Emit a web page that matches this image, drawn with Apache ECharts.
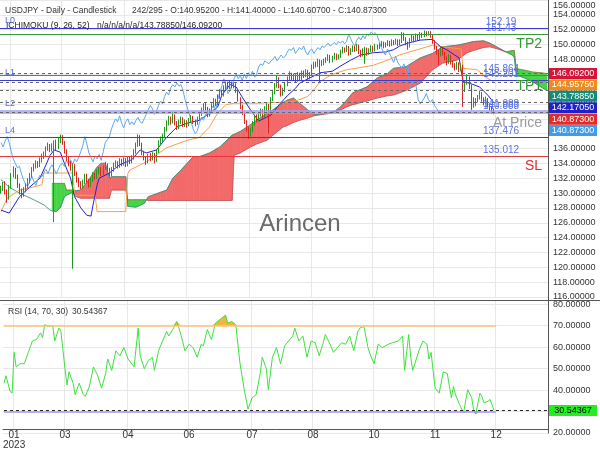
<!DOCTYPE html>
<html>
<head>
<meta charset="utf-8">
<script src="https://cdn.jsdelivr.net/npm/echarts@6/dist/echarts.min.js"></script>
<style>
html,body{margin:0;padding:0;background:#ffffff;}
#chart{width:600px;height:450px;}
</style>
</head>
<body>
<div id="chart"></div>
<script>
// ---------------- DATA ----------------
const opens = [
130.4,130.6,131.2,130.2,129.4,130.8,132.4,133.0,132.3,131.0,
130.2,129.8,130.4,131.0,131.6,132.4,133.2,133.6,134.0,133.8,
134.4,134.9,135.2,136.0,136.4,135.9,136.3,136.8,136.2,137.0,
137.6,136.8,135.6,134.6,134.0,133.4,133.6,132.6,131.8,131.2,
130.9,131.5,132.3,131.6,131.0,131.8,132.4,132.2,132.8,133.2,
132.6,133.4,133.8,133.2,132.6,133.2,133.8,134.0,133.6,134.4,
133.9,134.5,133.8,134.6,134.2,134.8,135.6,136.4,137.6,136.6,
135.4,134.8,134.2,135.0,134.6,135.2,134.4,135.6,136.8,137.2,
137.6,138.6,139.4,140.0,139.6,140.4,139.4,138.8,139.6,140.0,
139.2,139.6,139.2,139.8,140.2,139.6,139.4,140.0,140.6,141.2,
141.8,141.4,140.6,141.0,141.8,142.4,142.0,143.0,143.6,143.2,
144.2,144.6,144.3,144.8,144.4,144.6,143.8,142.6,141.6,140.8,
139.6,138.6,138.0,138.4,139.4,140.2,139.8,140.6,141.0,140.4,
141.4,141.8,141.2,142.6,143.6,144.4,145.4,144.4,143.4,143.8,
144.6,145.4,146.0,145.4,145.8,145.2,146.0,145.4,146.2,145.8,
146.4,145.6,146.0,147.0,147.4,147.2,147.8,147.6,147.4,147.8,
148.0,148.4,147.8,148.2,148.6,148.2,148.4,149.0,149.4,149.2,
149.6,148.8,149.2,149.6,149.3,149.8,149.0,148.6,149.2,149.4,
148.8,149.2,149.6,149.3,149.8,149.6,149.9,150.2,149.8,150.0,
150.3,150.0,150.4,150.2,150.5,150.1,150.4,151.4,150.8,150.2,
149.8,150.6,151.0,150.6,151.2,150.8,151.4,151.2,151.7,151.4,
151.6,151.2,150.4,149.6,149.0,148.6,149.4,148.8,148.2,147.6,
148.4,147.6,147.2,146.8,147.4,146.6,147.2,144.0,144.8,145.4,
144.4,142.6,142.0,142.4,142.8,143.4,142.6,142.2,142.6,141.8,
141.4,140.952];
const closes = [
130.6,131.2,130.2,129.4,130.8,132.4,133.0,132.3,131.0,130.2,
129.8,130.4,131.0,131.6,132.4,133.2,133.6,134.0,133.8,134.4,
134.9,135.2,136.0,136.4,135.9,136.3,136.8,136.2,137.0,137.6,
136.8,135.6,134.6,134.0,133.4,133.6,132.6,131.8,131.2,130.9,
131.5,132.3,131.6,131.0,131.8,132.4,132.2,132.8,133.2,132.6,
133.4,133.8,133.2,132.6,133.2,133.8,134.0,133.6,134.4,133.9,
134.5,133.8,134.6,134.2,134.8,135.6,136.4,137.6,136.6,135.4,
134.8,134.2,135.0,134.6,135.2,134.4,135.6,136.8,137.2,137.6,
138.6,139.4,140.0,139.6,140.4,139.4,138.8,139.6,140.0,139.2,
139.6,139.2,139.8,140.2,139.6,139.4,140.0,140.6,141.2,141.8,
141.4,140.6,141.0,141.8,142.4,142.0,143.0,143.6,143.2,144.2,
144.6,144.3,144.8,144.4,144.6,143.8,142.6,141.6,140.8,139.6,
138.6,138.0,138.4,139.4,140.2,139.8,140.6,141.0,140.4,141.4,
141.8,141.2,142.6,143.6,144.4,145.4,144.4,143.4,143.8,144.6,
145.4,146.0,145.4,145.8,145.2,146.0,145.4,146.2,145.8,146.4,
145.6,146.0,147.0,147.4,147.2,147.8,147.6,147.4,147.8,148.0,
148.4,147.8,148.2,148.6,148.2,148.4,149.0,149.4,149.2,149.6,
148.8,149.2,149.6,149.3,149.8,149.0,148.6,149.2,149.4,148.8,
149.2,149.6,149.3,149.8,149.6,149.9,150.2,149.8,150.0,150.3,
150.0,150.4,150.2,150.5,150.1,150.4,151.4,150.8,150.2,149.8,
150.6,151.0,150.6,151.2,150.8,151.4,151.2,151.7,151.4,151.6,
151.2,150.4,149.6,149.0,148.6,149.4,148.8,148.2,147.6,148.4,
147.6,147.2,146.8,147.4,146.6,147.2,144.0,144.8,145.4,144.4,
142.6,142.0,142.4,142.8,143.4,142.6,142.2,142.6,141.8,141.4,
140.952,140.873];
const highs = [
131.0,131.5,131.6,130.5,131.1,132.7,133.6,133.4,132.5,131.3,
130.6,130.8,131.3,132.0,132.7,133.5,134.0,134.4,134.3,134.8,
135.3,135.6,136.3,136.8,136.6,136.7,137.1,137.2,137.4,137.9,
137.8,137.0,135.9,134.9,134.3,134.0,133.9,132.9,132.1,131.6,
131.8,132.6,132.6,131.9,132.1,132.8,132.7,133.2,133.5,133.5,
133.7,134.2,134.0,133.4,133.5,134.1,134.4,134.3,134.7,134.6,
134.8,134.7,134.9,134.9,135.1,135.9,136.8,137.9,137.8,136.8,
135.7,135.0,135.3,135.4,135.5,135.4,135.9,137.1,137.6,138.0,
138.9,139.8,140.4,140.3,140.9,140.6,139.7,139.9,140.3,140.2,
139.9,139.8,140.1,140.5,140.4,139.9,140.3,140.9,141.5,142.1,
142.2,141.6,141.4,142.1,142.8,142.7,143.3,144.0,143.9,144.5,
145.0,145.0,145.1,145.0,144.9,144.8,144.0,142.9,141.9,141.0,
139.8,138.9,138.8,139.7,140.5,140.6,140.9,141.4,141.3,141.7,
142.1,142.0,142.9,143.9,144.8,145.8,145.6,144.6,144.2,144.9,
145.7,146.4,146.2,146.1,146.0,146.3,146.2,146.5,146.5,146.7,
146.6,146.3,147.3,147.7,147.7,148.1,148.0,147.9,148.1,148.3,
148.7,148.6,148.5,148.9,148.8,148.7,149.3,149.7,149.6,149.9,
149.8,149.5,149.9,149.8,150.1,150.0,149.3,149.5,149.7,149.6,
149.5,149.9,149.8,150.1,150.0,150.2,150.5,150.4,150.3,150.6,
150.5,150.7,150.6,150.8,150.7,150.7,151.7,151.6,151.0,150.4,
150.9,151.3,151.2,151.5,151.4,151.7,151.6,151.9,151.8,151.8,
151.8,151.4,150.6,149.8,149.3,149.7,149.6,149.0,148.4,148.7,
148.6,147.9,147.5,147.7,147.6,147.5,147.3,145.2,146.0,145.7,
144.6,142.9,142.8,143.2,143.8,143.6,142.9,143.0,142.8,142.1,
141.6,141.4];
const lows = [
129.9,130.3,129.8,128.7,129.1,130.6,132.1,131.9,130.7,129.8,
129.3,129.5,130.1,130.7,131.3,132.1,132.9,133.3,133.4,133.5,
134.1,134.6,134.9,135.7,135.5,135.6,126.1,135.8,135.9,136.7,
136.5,135.3,134.3,133.6,133.0,119.8,132.3,131.4,130.8,130.5,
130.6,131.2,131.3,130.7,130.8,131.5,131.8,131.9,132.5,132.3,
132.4,133.1,132.9,132.2,132.3,132.9,133.5,133.3,133.4,133.6,
133.7,133.5,133.6,133.9,134.0,134.5,135.3,136.2,136.3,135.1,
134.4,133.8,134.0,134.3,134.4,134.0,134.2,135.4,136.5,136.9,
137.4,138.3,139.1,139.2,139.4,139.1,138.5,138.6,139.3,138.9,
138.9,138.8,139.0,139.5,139.3,139.0,139.2,139.8,140.4,141.0,
141.1,140.2,140.3,140.8,141.5,141.7,141.8,142.7,142.9,143.0,
143.9,144.0,144.0,144.1,144.1,143.5,142.3,141.3,140.5,139.3,
138.3,137.3,137.6,138.2,139.1,139.5,139.6,140.3,140.1,140.2,
141.0,138.0,141.0,142.4,143.3,144.2,144.1,143.0,143.1,143.6,
144.4,145.1,145.1,145.1,144.9,145.0,145.1,145.2,145.5,145.6,
145.3,145.3,145.8,146.7,146.9,147.0,144.8,147.1,147.2,147.5,
147.8,147.5,147.6,148.0,147.9,148.0,148.2,148.8,148.9,149.0,
148.5,148.6,149.0,149.0,149.1,148.7,148.3,148.4,147.4,148.5,
148.6,149.0,149.0,149.1,149.3,149.4,149.7,149.5,149.6,149.8,
149.7,149.8,149.9,150.0,149.8,149.9,150.2,150.5,149.9,149.3,
149.6,150.4,150.3,150.4,150.5,150.6,150.9,151.0,151.1,151.2,
150.9,150.1,149.3,148.6,147.2,148.4,148.5,147.9,147.2,147.4,
147.3,146.9,146.5,146.6,146.3,146.4,141.6,143.6,144.6,144.0,
141.2,141.5,141.7,142.2,142.6,142.3,141.8,142.0,141.5,141.1,
140.7,140.607];

// Ichimoku lines: [bar index, price]
const tenkanPts = [[0,127.7],[4,127.3],[9,129.5],[14,130.8],[19,132.0],[22,133.8],[24,135.1],[26,135.8],[29,135.5],[31,134.0],[34,132.0],[36,129.5],[39,128.0],[42,127.0],[44,126.9],[45,128.4],[47,131.1],[48,132.0],[53,132.7],[58,133.8],[64,134.5],[68,135.8],[71,135.4],[76,135.8],[81,137.5],[86,138.9],[91,139.4],[97,139.8],[102,140.8],[106,141.6],[108,143.2],[112,144.6],[115,144.3],[118,142.9],[122,141.2],[126,139.7],[129,140.1],[132,140.5],[136,141.9],[140,143.1],[144,144.1],[146,144.8],[151,145.5],[156,146.2],[162,146.4],[166,147.1],[171,147.9],[176,148.6],[182,148.9],[188,149.0],[192,149.3],[195,149.8],[199,150.2],[205,150.6],[211,150.7],[215,149.7],[218,149.3],[224,148.2],[226,145.0],[229,144.8],[234,144.3],[238,143.2],[241,142.1705]];
const kijunPts = [[0,127.5],[3,129.3],[9,130.4],[14,130.7],[20,131.1],[21,132.7],[35,132.7],[36,129.7],[46,129.7],[47,127.5],[61,127.5],[62,132.6],[63,133.1],[71,134.2],[81,136.1],[91,137.1],[97,137.5],[102,138.9],[106,140.8],[110,141.9],[114,142.1],[126,142.1],[143,142.3],[150,143.0],[153,143.9],[156,145.0],[162,146.0],[169,146.6],[182,147.2],[189,147.9],[195,148.6],[201,149.1],[211,149.9],[216,149.7],[225,149.4],[226,146.8],[233,146.6],[237,145.6],[241,144.9575]];
// Cloud: [bar index, senkou A, senkou B]
const cloudPts = [[0,131.8,null],[4,130.8,null],[9,130.0,null],[16,129.1,null],[21,128.4,null],[24,127.7,null],
[25,127.6,131.3],[27,127.5,131.3],[29,128.0,131.3],[31,129.5,131.3],[32,129.7,130.4],[35,130.1,130.4],[36,130.3,129.6],[39,130.4,129.3],[43,131.8,129.3],[47,133.5,129.3],[49,134.0,129.3],[51,134.0,129.3],[53,132.0,129.3],[54,132.2,130.4],[61,132.2,130.4],[62,128.2,129.1],[66,128.1,129.1],[70,128.6,129.1],[71,129.0,129.1],[72,129.5,129.0],[78,130.1,129.0],[81,130.4,129.0],[84,132.0,129.0],[88,133.1,129.0],[91,134.0,129.0],[94,134.9,129.0],[97,134.9,129.0],[102,135.4,129.0],[107,136.2,129.0],[113,137.8,129.0],[114,137.9,135.1],[117,138.3,135.4],[122,139.2,136.2],[125,139.8,136.6],[130,140.7,137.1],[133,141.2,137.8],[138,142.2,138.9],[140,142.5,139.1],[143,142.8,139.5],[146,142.1,139.8],[150,141.2,140.1],[153,140.6,140.4],[155,140.6,140.5],[160,140.8,140.7],[163,141.0,140.9],[166,141.6,141.2],[169,142.5,141.6],[172,143.5,141.9],[179,144.3,142.4],[184,145.5,142.8],[189,146.1,143.1],[192,146.8,143.2],[198,147.0,143.8],[205,148.2,144.8],[211,148.8,146.6],[216,149.7,147.5],[223,149.9,147.9],[228,150.2,148.9],[231,150.4,149.2],[236,150.5,149.6],[239,150.2,149.7],[243,149.6,149.4],[247,149.0,149.0],[250,148.6,149.2],[251,148.3,149.2],[252,145.9,146.75],[256,145.5,146.55],[260,145.0,146.3],[264,144.3,146.2],[267,143.7885,146.092]];
const CHIKOU_SHIFT = 26;

// RSI (14): [bar index, value]
const rsiPts = [[0,43.2],[1,46.7],[3,39.4],[4,38.6],[5,57.6],[6,50.8],[8,52.3],[10,52.3],[12,57.6],[14,62.9],[16,63.6],[18,66.7],[19,64.4],[20,70.5],[22,69.7],[24,70.0],[25,62.9],[27,68.9],[28,67.4],[30,50.0],[31,42.4],[32,48.5],[34,43.2],[35,37.9],[37,43.2],[39,37.9],[40,37.1],[42,41.7],[44,50.8],[46,47.0],[48,40.9],[50,47.7],[51,54.5],[53,49.2],[55,58.3],[57,56.0],[59,59.8],[61,54.5],[64,50.8],[66,68.9],[67,56.0],[69,50.0],[71,53.8],[73,55.3],[74,49.2],[76,58.3],[78,62.9],[80,67.4],[81,65.2],[83,68.2],[85,72.0],[87,65.9],[89,58.3],[91,61.4],[93,59.8],[95,55.3],[97,61.4],[98,60.6],[100,68.2],[102,63.6],[104,71.2],[107,73.5],[109,75.0],[110,71.2],[112,72.0],[114,70.5],[116,53.0],[118,40.9],[120,31.1],[122,36.4],[124,37.9],[126,47.7],[127,55.3],[129,50.0],[130,40.2],[132,55.3],[134,59.8],[136,52.3],[138,60.6],[140,62.9],[142,65.2],[143,68.9],[145,62.9],[147,65.2],[149,55.3],[151,62.9],[153,62.1],[155,56.0],[157,62.1],[158,65.9],[160,62.1],[162,57.6],[164,59.8],[166,62.1],[168,61.4],[170,65.2],[172,58.3],[174,67.4],[175,68.9],[177,69.7],[179,59.8],[180,56.8],[182,52.3],[184,61.4],[186,59.8],[189,61.4],[191,62.1],[194,62.9],[196,65.2],[197,49.2],[199,65.9],[200,55.3],[201,49.2],[204,58.3],[206,62.9],[208,61.4],[209,54.5],[210,57.6],[212,40.9],[214,38.6],[216,48.5],[218,47.7],[220,36.4],[221,41.7],[222,37.9],[224,33.3],[226,29.5],[228,40.2],[230,36.4],[231,30.3],[232,28.8],[234,38.6],[235,37.1],[236,34.1],[238,34.8],[239,35.6],[241,30.54367]];
const rsiLast = 30.54367;
const rsiUpper = 70, rsiLower = 30;

// axis tick labels
const xLabelIdx = [5, 30, 61, 91, 122, 152, 182, 212, 242];
const xLabelTxt = ['01\n2023', '03', '04', '06', '07', '08', '10', '11', '12'];
const N_CATS = 268;

// horizontal levels
const levelVals = [152.19, 151.43, 145.864, 145.201, 141.088, 140.883, 137.476, 135.012];
const levelTexts = ['152.19', '151.43', '145.864', '145.201', '141.088', '140.883', '137.476', '135.012'];
const levelNames = ['L0', 'TP2', 'TP1', 'L1', 'L2', 'At Price', 'L4', 'SL'];
// current indicator values (right-hand boxes): senkou B, kijun, senkou A, tenkan, close, chikou
const boxVals = [146.092, 144.9575, 143.7885, 142.1705, 140.873, 140.873];

// ---------------- STYLES ----------------
const FONT = '"Liberation Sans", Arial, Helvetica, sans-serif';
const GRID_LINE = '#e8e8e8';
const CLOUD_RED = '#f26a6a';
const CLOUD_GREEN = '#47d447';
const levelStyles = [
  {color:'#3a3ad6', width:1},
  {color:'#3c9a3c', width:1},
  {color:'#3c9a3c', width:1},
  {color:'#3a3ad6', width:1},
  {color:'#9d9df0', width:1.5},
  {color:'#9d9df0', width:1.5},
  {color:'#3a3ad6', width:1},
  {color:'#e03a3a', width:1}
];
const boxColors = ['#d6143a', '#f08a1c', '#168a78', '#2020c8', '#e22b2b', '#3e9cea'];

// ---------------- BUILD ----------------
const categories = Array.from({length: N_CATS}, (_, i) => String(i));
const xLabelMap = {};
xLabelIdx.forEach((k, j) => { xLabelMap[k] = xLabelTxt[j]; });

const candleData = closes.map((c, i) => [opens[i], c, lows[i], highs[i]]);
const chikouData = closes.slice(CHIKOU_SHIFT).map((v, j) => [j, v]);
const spanALine = cloudPts.map(p => [p[0], p[1]]);
const spanBLine = cloudPts.filter(p => p[2] != null).map(p => [p[0], p[2]]);
const cloudSegs = [];
for (let k = 0; k < cloudPts.length - 1; k++) {
  const a = cloudPts[k], b = cloudPts[k + 1];
  if (a[2] == null || b[2] == null) continue;
  cloudSegs.push([a[0], a[1], a[2], b[0], b[1], b[2]]);
}

const levelLines = levelVals.map((v, k) => ({yAxis: v, lineStyle: {color: levelStyles[k].color, width: levelStyles[k].width, type: 'solid'}}));
boxVals.slice(0, 5).forEach(v => levelLines.push({yAxis: v, lineStyle: {color: '#666', width: 1, type: [3, 3]}}));

const chart = echarts.init(document.getElementById('chart'), null, {renderer: 'canvas', width: 600, height: 450});

const xAxisCommon = {
  type: 'category', data: categories, boundaryGap: true,
  axisTick: {show: false},
  splitLine: {show: true, interval: (i) => (i in xLabelMap), lineStyle: {color: GRID_LINE, width: 1}}
};

const option = {
  animation: false,
  backgroundColor: '#ffffff',
  grid: [
    {left: 0, right: 52, top: 0, height: 297},
    {left: 0, right: 52, top: 300, height: 136}
  ],
  xAxis: [
    Object.assign({}, xAxisCommon, {gridIndex: 0, axisLine: {show: false}, axisLabel: {show: false}}),
    Object.assign({}, xAxisCommon, {gridIndex: 1, offset: -4,
      axisLine: {show: true, lineStyle: {color: '#555', width: 1}},
      axisLabel: {show: true, interval: (i) => (i in xLabelMap), formatter: (v, i) => xLabelMap[i] || '',
        fontSize: 10, color: '#333', margin: 1, lineHeight: 10, fontFamily: FONT}})
  ],
  yAxis: [
    {type: 'value', gridIndex: 0, position: 'right', min: 116, max: 156, interval: 2,
      axisLine: {show: true, lineStyle: {color: '#555'}}, axisTick: {show: false},
      axisLabel: {fontSize: 9, color: '#333', margin: 5, fontFamily: FONT, formatter: v => (v > 155.5 ? '' : v.toFixed(5))},
      splitLine: {show: true, lineStyle: {color: GRID_LINE}}},
    {type: 'value', gridIndex: 1, position: 'right', min: 20, max: 82, interval: 10,
      axisLine: {show: true, lineStyle: {color: '#555'}}, axisTick: {show: false},
      axisLabel: {fontSize: 9, color: '#333', margin: 5, fontFamily: FONT, formatter: v => (v > 80.5 ? '' : v.toFixed(5))},
      splitLine: {show: true, lineStyle: {color: GRID_LINE}}}
  ],
  series: [
    {
      type: 'custom', name: 'cloud', xAxisIndex: 0, yAxisIndex: 0, z: 1, silent: true, clip: true,
      data: cloudSegs,
      encode: {x: [0, 3], y: [1, 2, 4, 5]},
      renderItem: (params, api) => {
        const i1 = api.value(0), a1 = api.value(1), b1 = api.value(2);
        const i2 = api.value(3), a2 = api.value(4), b2 = api.value(5);
        const pts = [api.coord([i1, a1]), api.coord([i2, a2]), api.coord([i2, b2]), api.coord([i1, b1])];
        const col = (a1 + a2) >= (b1 + b2) ? CLOUD_RED : CLOUD_GREEN;
        return {type: 'polygon', shape: {points: pts}, style: {fill: col, stroke: col, lineWidth: 0.6}};
      }
    },
    {type: 'line', name: 'spanA', data: spanALine, xAxisIndex: 0, yAxisIndex: 0, symbol: 'none', z: 2, silent: true,
      lineStyle: {color: '#2f8f78', width: 1, opacity: 0.85}},
    {type: 'line', name: 'spanB', data: spanBLine, xAxisIndex: 0, yAxisIndex: 0, symbol: 'none', z: 2, silent: true,
      lineStyle: {color: '#b04848', width: 1, opacity: 0.6}},
    {type: 'line', name: 'kijun', data: kijunPts, xAxisIndex: 0, yAxisIndex: 0, symbol: 'none', z: 3, silent: true,
      lineStyle: {color: '#f7a04a', width: 1}},
    {type: 'line', name: 'tenkan', data: tenkanPts, xAxisIndex: 0, yAxisIndex: 0, symbol: 'none', z: 3, silent: true,
      lineStyle: {color: '#2424c8', width: 1}},
    {type: 'line', name: 'chikou', data: chikouData, xAxisIndex: 0, yAxisIndex: 0, symbol: 'none', z: 3, silent: true,
      lineStyle: {color: '#5aa8ee', width: 1}},
    {
      type: 'candlestick', name: 'USDJPY', data: candleData, xAxisIndex: 0, yAxisIndex: 0, z: 4, silent: true,
      barWidth: 1.2,
      itemStyle: {color: '#1f9a1f', color0: '#e02424', borderColor: '#1f9a1f', borderColor0: '#e02424', borderWidth: 1},
      markLine: {silent: true, symbol: ['none', 'none'], label: {show: false}, animation: false, data: levelLines}
    },
    {type: 'line', name: 'rsiOver', data: rsiPts.map(p => [p[0], Math.max(p[1], rsiUpper)]), xAxisIndex: 1, yAxisIndex: 1,
      symbol: 'none', z: 2, silent: true, lineStyle: {width: 0, opacity: 0}, areaStyle: {origin: rsiUpper, color: '#f2b540', opacity: 1}},
    {type: 'line', name: 'rsiUnder', data: rsiPts.map(p => [p[0], Math.min(p[1], rsiLower)]), xAxisIndex: 1, yAxisIndex: 1,
      symbol: 'none', z: 2, silent: true, lineStyle: {width: 0, opacity: 0}, areaStyle: {origin: rsiLower, color: '#8d89c0', opacity: 1}},
    {
      type: 'line', name: 'RSI', data: rsiPts, xAxisIndex: 1, yAxisIndex: 1, symbol: 'none', z: 4, silent: true,
      lineStyle: {color: '#3ee23e', width: 1},
      markLine: {silent: true, symbol: ['none', 'none'], label: {show: false}, animation: false, data: [
        [{xAxis: 0, yAxis: rsiUpper, lineStyle: {color: '#f7c57a', width: 1.5, type: 'solid'}}, {xAxis: 242, yAxis: rsiUpper}],
        [{xAxis: 0, yAxis: rsiLower, lineStyle: {color: '#a995e6', width: 1.5, type: 'solid'}}, {xAxis: 242, yAxis: rsiLower}],
        [{xAxis: 0, yAxis: rsiLast, lineStyle: {color: '#222', width: 1, type: [3, 3]}}, {xAxis: 267, yAxis: rsiLast}]
      ]}
    }
  ]
};
chart.setOption(option);

// ---------------- TEXT LAYER ----------------
function txt(x, y, s, o) {
  o = o || {};
  const al = o.align || 'left', va = o.va || 'middle';
  return {type: 'text', x: x, y: y, silent: true, z: 100,
    style: {text: s, font: o.font || ('8.5px ' + FONT), fill: o.fill || '#333', opacity: o.opacity == null ? 1 : o.opacity,
      textAlign: al, align: al, textVerticalAlign: va, verticalAlign: va}};
}
const py = v => chart.convertToPixel({yAxisIndex: 0}, v);
const ry = v => chart.convertToPixel({yAxisIndex: 1}, v);
const g = [];

// frame lines
g.push({type: 'line', silent: true, z: 90, shape: {x1: 0, y1: 300.5, x2: 600, y2: 300.5}, style: {stroke: '#555', lineWidth: 1}});
g.push({type: 'line', silent: true, z: 90, shape: {x1: 548.5, y1: 0, x2: 548.5, y2: 432}, style: {stroke: '#555', lineWidth: 1}});

// headers
g.push(txt(5, 10.5, 'USDJPY - Daily - Candlestick'));
g.push(txt(132, 10.5, '242/295 - O:140.95200 - H:141.40000 - L:140.60700 - C:140.87300'));
g.push(txt(6, 26, 'ICHIMOKU (9, 26, 52)', {fill: '#222'}));
g.push(txt(97, 26, 'n/a/n/a/n/a/143.78850/146.09200', {fill: '#222'}));
g.push(txt(8, 312, 'RSI (14, 70, 30)'));
g.push(txt(72, 312, rsiLast.toFixed(5)));
g.push(txt(553, 6, (156).toFixed(5), {font: '9px ' + FONT}));

// watermark
g.push(txt(300, 224, 'Arincen', {align: 'center', font: '24px ' + FONT, fill: '#5a5a5a', opacity: 0.9}));

// level value labels
levelVals.forEach((v, k) => {
  g.push(txt(501, py(v) - 1, levelTexts[k], {align: 'center', va: 'bottom', fill: '#5873e0', font: '10px ' + FONT}));
});
// left level names
[[0, 'L0'], [3, 'L1'], [4, 'L2'], [6, 'L4']].forEach(([k, name]) => {
  g.push(txt(5, py(levelVals[k]) - 3, name, {va: 'bottom', fill: '#5a6fd6', font: '9px ' + FONT}));
});
// right level names (right aligned just left of the price boxes)
[[1, '#2f9a2f'], [2, '#2f9a2f'], [5, '#9a9a9a'], [7, '#e02a2a']].forEach(([k, col]) => {
  g.push(txt(542, py(levelVals[k]) + 10.5, levelNames[k], {align: 'right', font: '14px ' + FONT, fill: col}));
});

// right value boxes (stacked to avoid overlap)
let prev = -1e9;
boxVals.forEach((v, k) => {
  const cy = Math.max(py(v), prev + 11.4);
  prev = cy;
  g.push({type: 'rect', silent: true, z: 95, shape: {x: 549, y: cy - 5.5, width: 48, height: 11}, style: {fill: boxColors[k]}});
  g.push(txt(573, cy, v.toFixed(5), {align: 'center', fill: '#fff', font: '9px ' + FONT}));
});
// RSI value box
const rcy = ry(rsiLast);
g.push({type: 'rect', silent: true, z: 95, shape: {x: 549, y: rcy - 5.5, width: 48, height: 11}, style: {fill: '#22ee22'}});
g.push(txt(573, rcy, rsiLast.toFixed(5), {align: 'center', fill: '#000', font: '9px ' + FONT}));

chart.setOption({graphic: g});
</script>
</body>
</html>
